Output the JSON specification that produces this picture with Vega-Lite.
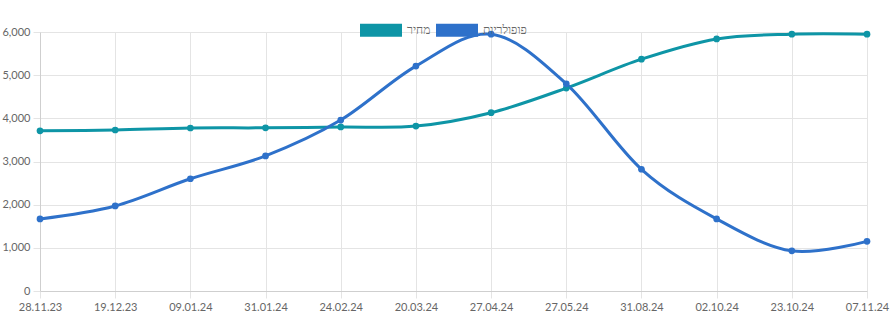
{
  "$schema": "https://vega.github.io/schema/vega-lite/v6.json",
  "width": 827,
  "height": 259,
  "autosize": "none",
  "padding": {"left": 40, "top": 32, "right": 23, "bottom": 29},
  "background": "white",
  "config": {
    "view": {"stroke": null},
    "font": "Lato",
    "axis": {"labelFont": "Lato", "labelFontSize": 11, "labelColor": "#666666", "gridColor": "#e4e4e4", "tickColor": "#e4e4e4", "domainColor": "#cfcfcf", "tickSize": 7, "labelPadding": 3}
  },
  "data": {
    "values": [
      {"date": "28.11.23", "series": "מחיר", "value": 3710},
      {"date": "19.12.23", "series": "מחיר", "value": 3730},
      {"date": "09.01.24", "series": "מחיר", "value": 3776},
      {"date": "31.01.24", "series": "מחיר", "value": 3780},
      {"date": "24.02.24", "series": "מחיר", "value": 3800},
      {"date": "20.03.24", "series": "מחיר", "value": 3820},
      {"date": "27.04.24", "series": "מחיר", "value": 4130},
      {"date": "27.05.24", "series": "מחיר", "value": 4700},
      {"date": "31.08.24", "series": "מחיר", "value": 5370},
      {"date": "02.10.24", "series": "מחיר", "value": 5840},
      {"date": "23.10.24", "series": "מחיר", "value": 5950},
      {"date": "07.11.24", "series": "מחיר", "value": 5950},
      {"date": "28.11.23", "series": "פופולריות", "value": 1670},
      {"date": "19.12.23", "series": "פופולריות", "value": 1970},
      {"date": "09.01.24", "series": "פופולריות", "value": 2600},
      {"date": "31.01.24", "series": "פופולריות", "value": 3130},
      {"date": "24.02.24", "series": "פופולריות", "value": 3960},
      {"date": "20.03.24", "series": "פופולריות", "value": 5210},
      {"date": "27.04.24", "series": "פופולריות", "value": 5950},
      {"date": "27.05.24", "series": "פופולריות", "value": 4800},
      {"date": "31.08.24", "series": "פופולריות", "value": 2820},
      {"date": "02.10.24", "series": "פופולריות", "value": 1670},
      {"date": "23.10.24", "series": "פופולריות", "value": 930},
      {"date": "07.11.24", "series": "פופולריות", "value": 1150}
    ]
  },
  "encoding": {
    "x": {
      "field": "date", "type": "ordinal", "sort": null,
      "scale": {"type": "point", "padding": 0},
      "axis": {"title": null, "labelAngle": 0, "grid": true, "labelOverlap": false, "labelBound": false, "labelFlush": false}
    },
    "y": {
      "field": "value", "type": "quantitative",
      "scale": {"domain": [0, 6000], "nice": false},
      "axis": {"title": null, "values": [0, 1000, 2000, 3000, 4000, 5000, 6000], "format": ",.0f", "grid": true, "labelPadding": 3}
    },
    "color": {
      "field": "series", "type": "nominal",
      "scale": {"domain": ["מחיר", "פופולריות"], "range": ["#0e95a6", "#2e71ca"]},
      "legend": {
        "title": null, "orient": "none", "legendX": 320, "legendY": -23, "direction": "horizontal",
        "symbolType": "M-1,-0.31H1V0.31H-1Z", "symbolSize": 1764, "symbolStrokeWidth": 0, "symbolOpacity": 1,
        "labelFont": "Lato", "labelFontSize": 12, "labelColor": "#666666", "columnPadding": 5, "labelOffset": 5, "padding": 0
      }
    }
  },
  "layer": [
    {"mark": {"type": "line", "interpolate": "cardinal", "strokeWidth": 3}},
    {"mark": {"type": "point", "filled": true, "size": 45, "opacity": 1}}
  ]
}
